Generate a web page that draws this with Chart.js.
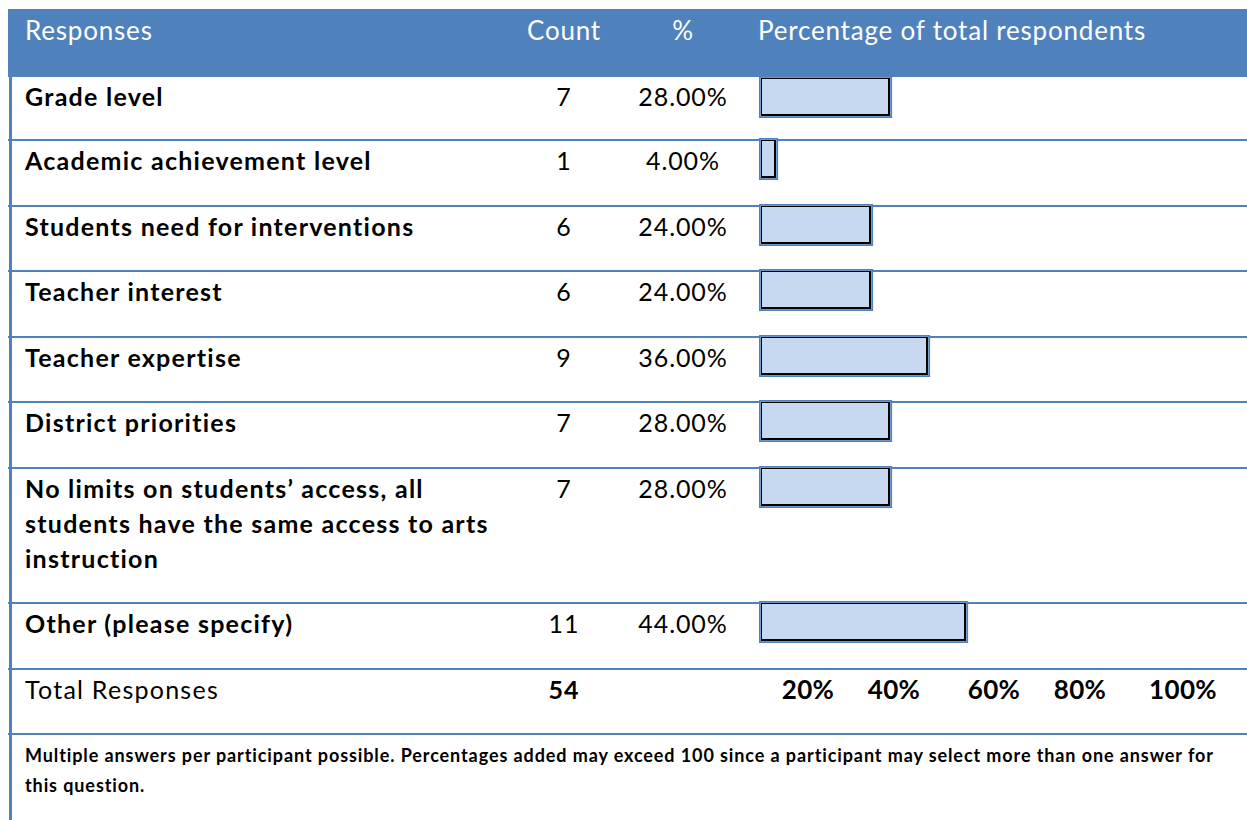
<!DOCTYPE html>
<html>
<head>
<meta charset="utf-8">
<script src="https://cdn.jsdelivr.net/npm/chart.js@4.4.0/dist/chart.umd.min.js"></script>
<style>
  body { margin: 0; background: #fff; font-family: Lato, "Open Sans", sans-serif; color: #000; }
  #wrap { position: relative; width: 1247px; height: 820px; overflow: hidden; }
  #leftRule { position: absolute; left: 9px; top: 9px; width: 3px; height: 811px; background: #4F81BD; z-index: 2; }
  table { position: absolute; left: 8px; top: 9px; width: 1239px; border-collapse: collapse; table-layout: fixed; letter-spacing: 0.9px; }
  th { background: #4F81BD; color: #fff; font-weight: normal; font-size: 26px; height: 68px; padding: 0; vertical-align: top; line-height: 43px; letter-spacing: 0.8px; }
  td { vertical-align: top; padding: 2px 0 26.5px 0; line-height: 35px; font-size: 25px; border-bottom: 2px solid #4F81BD; }
  tbody tr:first-child td { padding-bottom: 25px; }
  .c1 { text-align: left; padding-left: 17px; padding-right: 20px; }
  .c2, .c3 { text-align: center; }
  .c4 { position: relative; text-align: left; }
  td.c1 { font-weight: bold; letter-spacing: 1.25px; }
  .bar { position: absolute; left: 1px; top: -3px; }
  tbody tr:first-child .bar { top: -1px; }
  .axisLbl { position: absolute; top: 2px; font-weight: bold; font-size: 26px; letter-spacing: 0.4px; transform: translateX(-50%); }
  td.note { border-bottom: none; font-weight: bold; font-size: 18px; line-height: 30px; padding: 5px 10px 0 17px; letter-spacing: 0.9px; }
</style>
</head>
<body>
<div id="wrap">
  <div id="leftRule"></div>
  <table id="tbl">
    <colgroup><col style="width:512px"><col style="width:88px"><col style="width:150px"><col></colgroup>
    <thead>
      <tr>
        <th class="c1" style="font-weight:normal">Responses</th>
        <th class="c2">Count</th>
        <th class="c3">%</th>
        <th class="c4">Percentage of total respondents</th>
      </tr>
    </thead>
    <tbody id="body"></tbody>
  </table>
</div>
<script>
const responses = [
  'Grade level',
  'Academic achievement level',
  'Students need for interventions',
  'Teacher interest',
  'Teacher expertise',
  'District priorities',
  'No limits on students’ access, all students have the same access to arts instruction',
  'Other (please specify)'
]
const counts = [7, 1, 6, 6, 9, 7, 7, 11]
const percents = [28, 4, 24, 24, 36, 28, 28, 44]
const totalResponses = 54
const axisLabels = ['20%', '40%', '60%', '80%', '100%']
const noteLines = [
  'Multiple answers per participant possible. Percentages added may exceed 100 since a participant may select more than one answer for',
  'this question.'
]

// label positions in the total row, px from the left of the bar column
const axisLabelX = [50, 136, 236, 322, 425]

const body = document.getElementById('body')

// inner black frame drawn inside the blue bar border
const innerFrame = {
  id: 'innerFrame',
  afterDatasetsDraw(chart) {
    const ctx = chart.ctx
    chart.getDatasetMeta(0).data.forEach(bar => {
      const p = bar.getProps(['x', 'y', 'base', 'height'], true)
      const left = Math.min(p.base, p.x) + 2
      const right = Math.max(p.base, p.x) - 2
      const top = p.y - p.height / 2 + 2
      const bottom = p.y + p.height / 2 - 2
      ctx.save()
      ctx.fillStyle = '#000'
      ctx.fillRect(left, top, right - left, 1)
      ctx.fillRect(left, top, 1, bottom - top)
      ctx.fillRect(right - 2, top, 2, bottom - top)
      ctx.fillRect(left, bottom - 2, right - left, 2)
      ctx.restore()
    })
  }
}

const initRowBar = (canvas, label, value) => {
  new Chart(canvas, {
    type: 'bar',
    data: {
      labels: [label],
      datasets: [{
        data: [value],
        backgroundColor: '#C6D9F1',
        borderColor: '#4F81BD',
        borderWidth: 2,
        borderSkipped: false,
        categoryPercentage: 1,
        barPercentage: 1
      }]
    },
    options: {
      indexAxis: 'y',
      responsive: false,
      animation: false,
      layout: { padding: 0 },
      plugins: {
        legend: { display: false },
        tooltip: { enabled: false }
      },
      scales: {
        x: { type: 'linear', min: 0, max: 100, display: false },
        y: { display: false }
      }
    },
    plugins: [innerFrame]
  })
}

responses.forEach((label, i) => {
  const tr = document.createElement('tr')
  tr.innerHTML = '<td class="c1"></td><td class="c2">' + counts[i] + '</td>' +
    '<td class="c3">' + percents[i].toFixed(2) + '%</td><td class="c4"></td>'
  tr.children[0].textContent = label
  const canvas = document.createElement('canvas')
  canvas.className = 'bar'
  canvas.width = 475
  canvas.height = 42
  tr.children[3].appendChild(canvas)
  body.appendChild(tr)
  initRowBar(canvas, label, percents[i])
})

const totalRow = document.createElement('tr')
totalRow.innerHTML = '<td class="c1" style="font-weight:normal">Total Responses</td>' +
  '<td class="c2" style="font-weight:bold">' + totalResponses + '</td><td class="c3"></td><td class="c4"></td>'
axisLabels.forEach((t, i) => {
  const s = document.createElement('span')
  s.className = 'axisLbl'
  s.style.left = axisLabelX[i] + 'px'
  s.textContent = t
  totalRow.children[3].appendChild(s)
})
body.appendChild(totalRow)

const noteRow = document.createElement('tr')
const noteCell = document.createElement('td')
noteCell.colSpan = 4
noteCell.className = 'note'
noteCell.innerHTML = noteLines.join('<br>')
noteRow.appendChild(noteCell)
body.appendChild(noteRow)
</script>
</body>
</html>
